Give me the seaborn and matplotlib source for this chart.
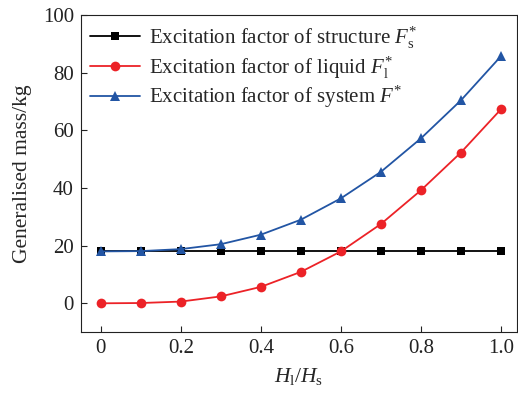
import matplotlib
matplotlib.use("Agg")
import matplotlib.pyplot as plt
import seaborn as sns
import pandas as pd

ratio = [0, 0.1, 0.2, 0.3, 0.4, 0.5, 0.6, 0.7, 0.8, 0.9, 1.0]
structure = [18.0] * 11
liquid = [0.0, 0.1, 0.6, 2.4, 5.7, 10.9, 18.0, 27.5, 39.2, 52.3, 67.3]
system = [18.0, 18.1, 18.8, 20.5, 23.8, 29.0, 36.4, 45.6, 57.2, 70.4, 85.7]

labels = [
    r"Excitation factor of structure $F_{\mathrm{s}}^{*}$",
    r"Excitation factor of liquid $F_{\mathrm{l}}^{*}$",
    r"Excitation factor of system $F^{*}$",
]

sns.set_theme(style="ticks")
plt.rcParams["font.family"] = ["Liberation Serif", "DejaVu Serif"]
plt.rcParams["mathtext.fontset"] = "custom"
plt.rcParams["mathtext.rm"] = "Liberation Serif"
plt.rcParams["mathtext.it"] = "Liberation Serif:italic"

df = pd.DataFrame({
    "x": ratio * 3,
    "y": structure + liquid + system,
    "series": [labels[0]] * 11 + [labels[1]] * 11 + [labels[2]] * 11,
})

fig = plt.figure(figsize=(5.18, 3.94), dpi=100)
ax = fig.add_axes([0.156, 0.157, 0.842, 0.805])

palette = {labels[0]: "#000000", labels[1]: "#ec2227", labels[2]: "#2255a4"}
markers = {labels[0]: "s", labels[1]: "o", labels[2]: "^"}
sizes = {labels[0]: 5.5, labels[1]: 7, labels[2]: 7}
for lab in labels:
    sub = df[df["series"] == lab]
    sns.lineplot(data=sub, x="x", y="y", ax=ax, color=palette[lab], marker=markers[lab],
                 markersize=sizes[lab], markeredgewidth=0, linewidth=1.3, label=lab)

ax.set_xlim(-0.05, 1.04)
ax.set_ylim(-10, 100)
ax.set_xticks([0, 0.2, 0.4, 0.6, 0.8, 1.0])
ax.set_xticklabels(["0", "0.2", "0.4", "0.6", "0.8", "1.0"])
ax.set_yticks([0, 20, 40, 60, 80, 100])
ax.tick_params(direction="in", length=4, width=0.8, labelsize=15, colors="#222222", pad=5)
for s in ax.spines.values():
    s.set_linewidth(0.8)
    s.set_color("#222222")
ax.set_xlabel(r"$H_{\mathrm{l}}/H_{\mathrm{s}}$", fontsize=15.5, labelpad=6)
ax.set_ylabel("Generalised mass/kg", fontsize=15.5, labelpad=8)
ax.legend(loc="upper left", frameon=False, fontsize=15, handlelength=2.4,
          handletextpad=0.4, borderaxespad=0.2, labelspacing=0.17,
          borderpad=0.25)

fig.savefig("out.png", dpi=100)
